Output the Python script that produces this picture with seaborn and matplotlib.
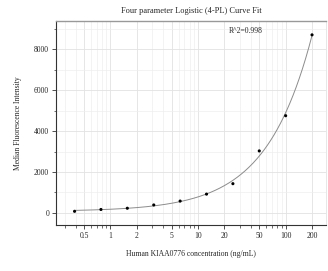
import numpy as np
import matplotlib
matplotlib.use("Agg")
import matplotlib.pyplot as plt
import seaborn as sns
from matplotlib.ticker import FixedLocator, LogLocator, NullFormatter, MultipleLocator

# Standard curve readings
conc = [0.39, 0.78, 1.56, 3.125, 6.25, 12.5, 25, 50, 100, 200]
mfi = [80, 170, 230, 390, 580, 920, 1430, 3030, 4750, 8700]
xticks = [0.5, 1, 2, 5, 10, 20, 50, 100, 200]
xticklabels = ["0.5", "1", "2", "5", "10", "20", "50", "100", "200"]
yticks = [0, 2000, 4000, 6000, 8000]


def four_pl(x, a, b, c, d):
    return d + (a - d) / (1 + (x / c) ** b)


# simple Levenberg-Marquardt fit of the 4PL model
def fit_4pl(x, y):
    x = np.asarray(x, float)
    y = np.asarray(y, float)
    p = np.array([60.0, 1.0, 500.0, 30000.0])
    lam = 1e-2
    def resid(p):
        return four_pl(x, *p) - y
    cost = np.sum(resid(p) ** 2)
    for _ in range(2000):
        J = np.zeros((len(x), 4))
        for i in range(4):
            h = 1e-6 * max(abs(p[i]), 1e-3)
            dp = p.copy()
            dp[i] += h
            J[:, i] = (resid(dp) - resid(p)) / h
        g = J.T @ resid(p)
        H = J.T @ J
        step = np.linalg.solve(H + lam * np.diag(np.diag(H)), -g)
        newp = p + step
        if newp[2] <= 0 or newp[1] <= 0:
            lam *= 10
            continue
        newcost = np.sum(resid(newp) ** 2)
        if newcost < cost:
            p, cost = newp, newcost
            lam = max(lam / 3, 1e-9)
        else:
            lam *= 5
    return p


params = fit_4pl(conc, mfi)
pred = four_pl(np.array(conc), *params)
r2 = 1 - np.sum((np.array(mfi) - pred) ** 2) / np.sum((np.array(mfi) - np.mean(mfi)) ** 2)

xs = np.logspace(np.log10(0.39), np.log10(200), 300)
curve = four_pl(xs, *params)

sns.set_theme(style="whitegrid")
plt.rcParams["font.family"] = ["Liberation Serif", "DejaVu Serif"]

fig, ax = plt.subplots(figsize=(3.28, 2.71), dpi=100)
fig.subplots_adjust(left=0.171, right=0.994, top=0.922, bottom=0.17)

sns.lineplot(x=xs, y=curve, ax=ax, color="#8c8c8c", linewidth=0.7)
sns.scatterplot(x=conc, y=mfi, ax=ax, color="black", s=5, edgecolor="none", zorder=3)

ax.set_xscale("log")
ax.set_xlim(0.24, 289)
ax.set_ylim(-585, 9370)
ax.xaxis.set_major_locator(FixedLocator(xticks))
ax.set_xticklabels(xticklabels)
ax.xaxis.set_minor_locator(LogLocator(base=10, subs=np.arange(2, 10)))
ax.xaxis.set_minor_formatter(NullFormatter())
ax.set_yticks(yticks)
ax.yaxis.set_minor_locator(MultipleLocator(1000))

ax.set_facecolor("white")
ax.grid(which="major", color="#e2e2e2", linewidth=0.6)
ax.grid(which="minor", color="#eeeeee", linewidth=0.5)
ax.tick_params(which="major", direction="out", length=3, width=0.6, labelsize=5.5, pad=2,
               bottom=True, left=True, color="#333333")
ax.tick_params(which="minor", direction="out", length=1.8, width=0.5, bottom=True, left=True,
               color="#333333")

for side in ["left", "bottom"]:
    ax.spines[side].set_color("#333333")
    ax.spines[side].set_linewidth(0.8)
ax.spines["top"].set_color("#999999")
ax.spines["top"].set_linewidth(1.0)
ax.spines["right"].set_color("#dddddd")
ax.spines["right"].set_linewidth(0.5)

ax.set_title("Four parameter Logistic (4-PL) Curve Fit", fontsize=6, pad=6)
ax.set_xlabel("Human KIAA0776 concentration (ng/mL)", fontsize=5.5, labelpad=7)
ax.set_ylabel("Median Fluorescence Intensity", fontsize=5.5, labelpad=9)
ax.text(0.64, 0.95, f"R^2={r2:.3f}", transform=ax.transAxes, fontsize=5.5, va="center")

fig.savefig("out.png", dpi=100)
